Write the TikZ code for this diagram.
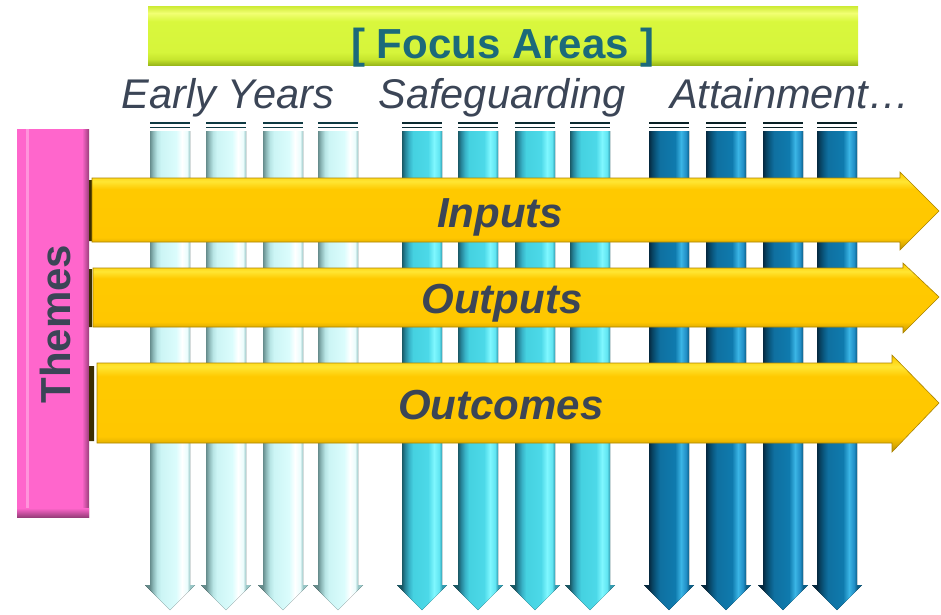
\documentclass[tikz,border=0pt]{standalone}
\usepackage{fontspec}
\setmainfont{Liberation Sans}
\usetikzlibrary{positioning}

\definecolor{teal}{HTML}{1B6A7A}
\definecolor{slate}{HTML}{3B4556}
\definecolor{themepink}{HTML}{FF66CC}
\definecolor{goldlo}{HTML}{C89A00}

% column shadings (column body spans 30bp..70bp)
\pgfdeclarehorizontalshading{colpale}{100bp}{rgb(0bp)=(0.4,0.55,0.55); rgb(30bp)=(0.4,0.55,0.55); rgb(33bp)=(0.55,0.72,0.72); rgb(37bp)=(0.72,0.9,0.9);
  rgb(41bp)=(0.8,0.96,0.96); rgb(56bp)=(0.86,0.99,0.99); rgb(62bp)=(1,1,1); rgb(67bp)=(0.92,0.99,0.99); rgb(70bp)=(0.6,0.78,0.78); rgb(100bp)=(0.6,0.78,0.78)}
\pgfdeclarehorizontalshading{colcyan}{100bp}{rgb(0bp)=(0.1,0.35,0.4); rgb(30bp)=(0.1,0.35,0.4); rgb(33bp)=(0.15,0.52,0.6); rgb(37bp)=(0.22,0.7,0.78);
  rgb(41bp)=(0.27,0.82,0.88); rgb(56bp)=(0.3,0.85,0.91); rgb(62bp)=(0.5,0.97,1); rgb(67bp)=(0.38,0.9,0.95); rgb(70bp)=(0.2,0.62,0.7); rgb(100bp)=(0.2,0.62,0.7)}
\pgfdeclarehorizontalshading{colblue}{100bp}{rgb(0bp)=(0.02,0.16,0.25); rgb(30bp)=(0.02,0.16,0.25); rgb(33bp)=(0.03,0.26,0.38); rgb(37bp)=(0.04,0.36,0.52);
  rgb(41bp)=(0.06,0.44,0.63); rgb(56bp)=(0.06,0.48,0.68); rgb(62bp)=(0.23,0.71,0.9); rgb(67bp)=(0.13,0.56,0.78); rgb(70bp)=(0.05,0.38,0.54); rgb(100bp)=(0.05,0.38,0.54)}
% gold and lime bands (bottom is 25bp)
\pgfdeclareverticalshading{goldband}{100bp}{rgb(0bp)=(0.7,0.55,0); rgb(25bp)=(0.7,0.55,0); rgb(29bp)=(0.88,0.68,0);
  rgb(33bp)=(1,0.78,0); rgb(64bp)=(1,0.79,0); rgb(69bp)=(1,0.9,0.2); rgb(73bp)=(1,0.82,0.05); rgb(75bp)=(0.85,0.66,0); rgb(100bp)=(0.85,0.66,0)}
\pgfdeclareverticalshading{limeband}{100bp}{rgb(0bp)=(0.6,0.72,0.1); rgb(25bp)=(0.6,0.72,0.1); rgb(30bp)=(0.78,0.9,0.18);
  rgb(36bp)=(0.84,0.96,0.23); rgb(62bp)=(0.85,0.97,0.24); rgb(69bp)=(0.95,1,0.45); rgb(75bp)=(0.8,0.92,0.2); rgb(100bp)=(0.8,0.92,0.2)}

\begin{document}
\begin{tikzpicture}[x=1pt,y=-1pt,
  big/.style={font=\fontsize{42}{50}\selectfont,inner sep=0pt},
  area/.style={big,slate,font=\fontsize{41.5}{50}\selectfont\itshape,anchor=base},
  theme/.style={big,slate,font=\fontsize{42}{50}\selectfont\bfseries\itshape,anchor=base},
  goldarrow/.style={shading=goldband,draw=goldlo!85!black,line width=0.6pt}]

\useasboundingbox (0,0) rectangle (941,614);

% focus areas bar
\fill[shading=limeband] (148,6) rectangle (858,65);
\node[big,teal,font=\fontsize{42}{50}\selectfont\bfseries,anchor=base](focus) at (503,58){[ Focus Areas ]};

% area labels
\node[area](early) at (228,108){Early Years};
\node[area](safe) at (502,108){Safeguarding};
\node[area](attain) at (790,108){Attainment…};

% columns: x / shading / cap colour
\foreach \x/\s/\c in {150/colpale/black!45!teal,206/colpale/black!45!teal,263/colpale/black!45!teal,318/colpale/black!45!teal,
  402/colcyan/black!60!teal,458/colcyan/black!60!teal,515/colcyan/black!60!teal,570/colcyan/black!60!teal,
  649/colblue/black!70!teal,706/colblue/black!70!teal,763/colblue/black!70!teal,817/colblue/black!70!teal}{
  \draw[\c,line width=1.5pt] (\x,123) -- ++(40,0) (\x,127.5) -- ++(40,0);
  \fill[shading=\s]
    (\x,131) -- ++(40,0) -- ++(0,454) -- ++(5,0) -- ++(-25,25) -- ++(-25,-25) -- ++(5,0) -- cycle;
}

% themes bar
\fill[themepink] (17,129) rectangle (89,517);
\fill[themepink!70!white] (26,129) rectangle (29,508);
\fill[left color=themepink,right color=themepink!60!black] (82,129) rectangle (89,517);
\fill[top color=themepink,bottom color=themepink!60!black] (17,508) rectangle (89,517);
\node[big,slate,font=\fontsize{42}{50}\selectfont\bfseries,rotate=90](themes) at (55,324){Themes};

% theme arrows
\fill[black!70!goldlo] (89,180) rectangle (92,241) (89,269) rectangle (92,327) (89,366) rectangle (94,441);
\draw[goldarrow] (92,178) -- (900,178) -- (900,172) -- (939,211) -- (900,250) -- (900,242) -- (92,242) -- cycle;
\draw[goldarrow] (93,268) -- (903,268) -- (903,263) -- (939,297) -- (903,333) -- (903,327) -- (93,327) -- cycle;
\draw[goldarrow] (97,363) -- (892,363) -- (892,355) -- (939,403) -- (892,452) -- (892,443) -- (97,443) -- cycle;

\node[theme](inputs) at (500,227){Inputs};
\node[theme](outputs) at (502,313){Outputs};
\node[theme](outcomes) at (501,419){Outcomes};

\end{tikzpicture}
\end{document}
